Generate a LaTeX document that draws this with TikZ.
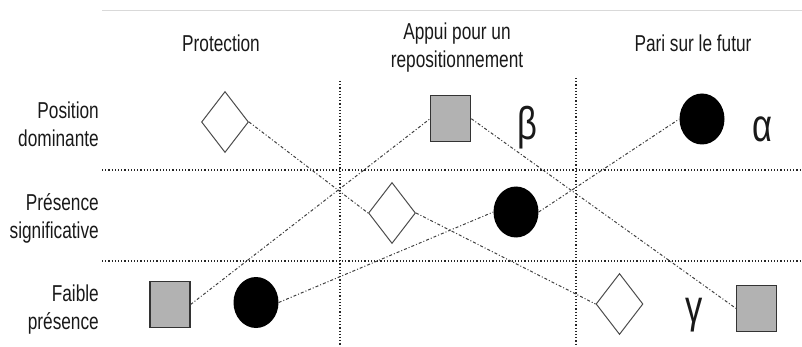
\documentclass[tikz,border=0pt]{standalone}
\usepackage{fontspec}
\setmainfont[FakeStretch=0.75]{Liberation Sans}
\usetikzlibrary{shapes.geometric}
\begin{document}
\begin{tikzpicture}[x=1pt,y=-1pt,
 gridline/.style={draw=black!85, line width=1.3pt, dash pattern=on 1.2pt off 2pt},
 link/.style={draw=black!75, line width=1pt, dash pattern=on 3pt off 2pt on 1pt off 2pt},
 dia/.style={diamond, draw=black!70, fill=white, line width=1pt, minimum width=47pt, minimum height=61pt, inner sep=0pt},
 sq/.style={rectangle, draw=black!80, fill=black!30, line width=1.2pt, minimum width=40pt, minimum height=46pt, inner sep=0pt},
 disc/.style={ellipse, fill=black, minimum width=45pt, minimum height=51pt, inner sep=0pt},
 lab/.style={font=\fontsize{23}{28}\selectfont, inner sep=0pt, text=black!90},
 greek/.style={font=\fontsize{46}{50}\selectfont, inner sep=0pt, anchor=base, text=black!90}]
\useasboundingbox (0,0) rectangle (802,347);
% top rule
\draw[black!15, line width=1pt] (102,11) -- (802,11);
% grid
\draw[gridline] (102,170) -- (802,170);
\draw[gridline] (102,261) -- (802,261);
\draw[gridline] (340,81) -- (340,347);
\draw[gridline] (576,78) -- (576,347);
% column headers
\node[lab, anchor=base] (h1) at (221,52) {Protection};
\node[lab, anchor=north, align=center] (h2) at (457,23) {Appui pour un\\repositionnement};
\node[lab, anchor=base] (h3) at (693,52) {Pari sur le futur};
% row labels
\node[lab, anchor=north east, align=right] (r1) at (99,101.5) {Position\\dominante};
\node[lab, anchor=north east, align=right] (r2) at (99,193) {Présence\\significative};
\node[lab, anchor=north east, align=right] (r3) at (99,285) {Faible\\présence};
% shapes
\node[dia] (d1) at (225,122) {};
\node[dia] (d2) at (392,213) {};
\node[dia] (d3) at (619.5,304) {};
\node[sq] (s1) at (170,304.5) {};
\node[sq] (s2) at (450.7,118.7) {};
\node[sq] (s3) at (756.7,308.5) {};
\node[disc] (c1) at (256,302.5) {};
\node[disc] (c2) at (516,212) {};
\node[disc] (c3) at (702,119) {};
% greek labels
\node[greek] (beta) at (527,140) {β};
\node[greek] (alpha) at (762,141.5) {α};
\node[greek] (gamma) at (694,322) {γ};
% trajectories
\draw[link] (d1.east) -- (d2.west);
\draw[link] (d2.east) -- (d3.west);
\draw[link] (s1.east) -- (s2.west);
\draw[link] (s2.east) -- (s3.west);
\draw[link] (c1.east) -- (c2.west);
\draw[link] (c2.east) -- (c3.west);
\end{tikzpicture}
\end{document}
